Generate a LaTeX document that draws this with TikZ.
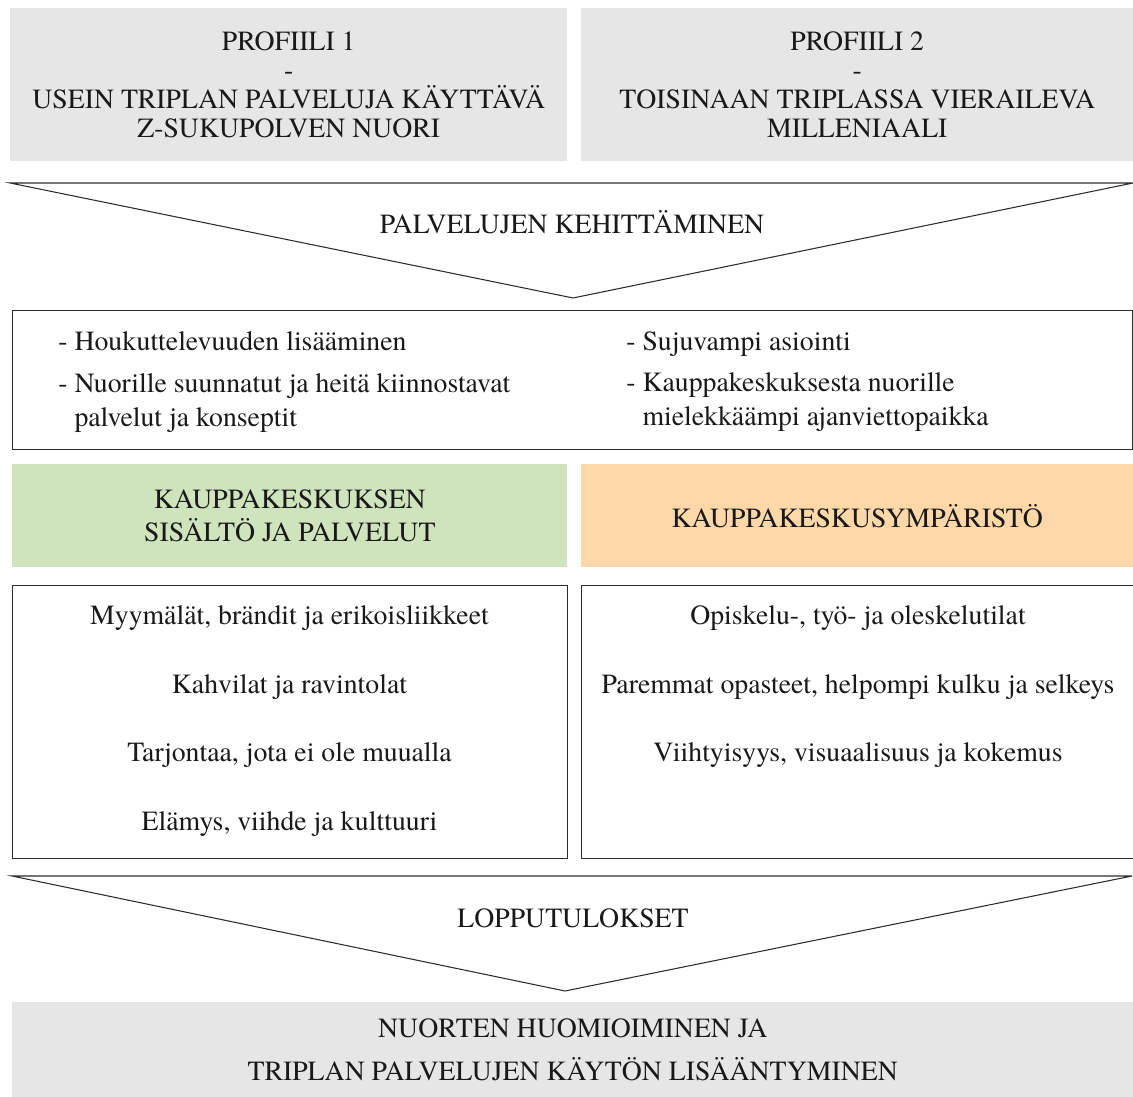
\documentclass[tikz,border=0pt]{standalone}
\usepackage{fontspec}
\setmainfont{texgyretermes}[Extension=.otf, UprightFont=*-regular, BoldFont=*-bold, ItalicFont=*-italic]
\definecolor{profgray}{HTML}{E6E6E6}
\definecolor{sisgreen}{HTML}{CFE3BD}
\definecolor{ymporange}{HTML}{FFD8AA}
\definecolor{edge}{HTML}{2B2B2B}
\tikzset{
  txt/.style={font=\fontsize{15.8}{16.5}\selectfont, align=center, text=black!90},
  fillbox/.style={txt, inner sep=0pt, anchor=north west},
  linebox/.style={draw=edge, line width=0.6pt, inner sep=0pt, anchor=north west},
  funnel/.style={draw=edge, line width=0.6pt, line join=miter},
}

\begin{document}
\begin{tikzpicture}[x=0.02cm,y=-0.02cm]
  \useasboundingbox (0,0) rectangle (1133,1097);
  % profiilit
  \node[fillbox, fill=profgray, minimum width=11.14cm, minimum height=3.06cm] (prof1) at (10,8)
    {PROFIILI 1\\-\\USEIN TRIPLAN PALVELUJA KÄYTTÄVÄ\\Z-SUKUPOLVEN NUORI};
  \node[fillbox, fill=profgray, minimum width=11.04cm, minimum height=3.06cm] (prof2) at (581,8)
    {PROFIILI 2\\-\\TOISINAAN TRIPLASSA VIERAILEVA\\MILLENIAALI};
  % ylempi suppilo
  \draw[funnel] (10,183)--(1133,183)--(573,298)--cycle;
  \node[txt] (kehitys) at (572,222) {PALVELUJEN KEHITTÄMINEN};
  % tavoitteet
  \node[linebox, minimum width=22.4cm, minimum height=2.78cm] (tavoitteet) at (12,310) {};
  \node[txt, align=left, anchor=north west, inner sep=0pt, font=\fontsize{15.8}{19.3}\selectfont] (tavL) at (58,331)
    {- Houkuttelevuuden lisääminen\\[4.5pt]- Nuorille suunnatut ja heitä kiinnostavat\\\phantom{-} palvelut ja konseptit};
  \node[txt, align=left, anchor=north west, inner sep=0pt, font=\fontsize{15.8}{19.3}\selectfont] (tavR) at (626,331)
    {- Sujuvampi asiointi\\[4.5pt]- Kauppakeskuksesta nuorille\\\phantom{-} mielekkäämpi ajanviettopaikka};
  % osa-alueet
  \node[fillbox, fill=sisgreen, font=\fontsize{15.8}{19.3}\selectfont, minimum width=11.1cm, minimum height=2.06cm] (sisalto) at (12,464)
    {KAUPPAKESKUKSEN\\SISÄLTÖ JA PALVELUT};
  \node[fillbox, fill=ymporange, minimum width=11.04cm, minimum height=2.06cm] (ymparisto) at (581,464)
    {KAUPPAKESKUSYMPÄRISTÖ};
  \node[linebox, minimum width=11.1cm, minimum height=5.46cm] (sisaltoBox) at (12,585) {};
  \node[linebox, minimum width=11.04cm, minimum height=5.46cm] (ymparistoBox) at (581,585) {};
  \node[txt, font=\fontsize{15.8}{19}\selectfont] (sisaltoList) at (289.5,721)
    {Myymälät, brändit ja erikoisliikkeet\\[20pt]Kahvilat ja ravintolat\\[20pt]Tarjontaa, jota ei ole muualla\\[20pt]Elämys, viihde ja kulttuuri};
  \node[txt, font=\fontsize{15.8}{19}\selectfont] (ymparistoList) at (858,687)
    {Opiskelu-, työ- ja oleskelutilat\\[20pt]Paremmat opasteet, helpompi kulku ja selkeys\\[20pt]Viihtyisyys, visuaalisuus ja kokemus};
  % alempi suppilo
  \draw[funnel] (12,876)--(1132,876)--(565,991)--cycle;
  \node[txt] (tulokset) at (573,918) {LOPPUTULOKSET};
  \node[fillbox, fill=profgray, font=\fontsize{15.8}{24.4}\selectfont, minimum width=22.42cm, minimum height=1.9cm] (lopputulos) at (12,1002)
    {NUORTEN HUOMIOIMINEN JA\\TRIPLAN PALVELUJEN KÄYTÖN LISÄÄNTYMINEN};
\end{tikzpicture}
\end{document}
